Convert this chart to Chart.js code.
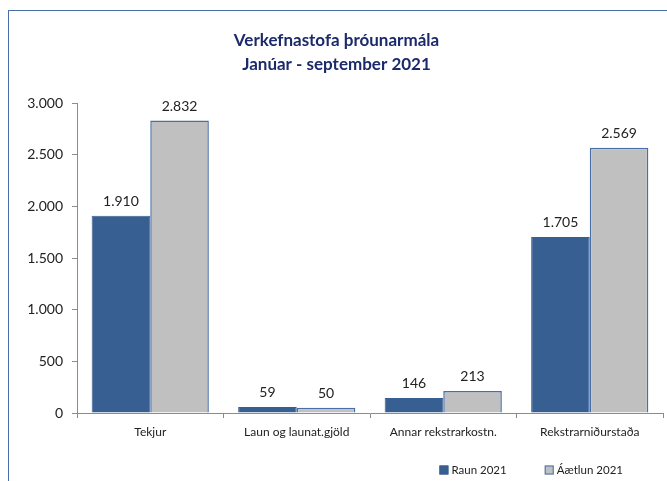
<!DOCTYPE html>
<html>
<head>
<meta charset="utf-8">
<script src="https://cdn.jsdelivr.net/npm/chart.js@4/dist/chart.umd.min.js"></script>
<style>
  html, body { margin: 0; padding: 0; background: #fff; overflow: hidden; }
  #wrap { position: relative; width: 667px; height: 481px; }
  #frame { position: absolute; left: 8px; top: 10px; width: 700px; height: 500px;
           border-left: 1.5px solid #4a6ea8; border-top: 1.5px solid #4a6ea8; }
  canvas { position: absolute; left: 0; top: 0; }
</style>
</head>
<body>
<div id="wrap">
  <div id="frame"></div>
  <canvas id="c" width="667" height="481"></canvas>
</div>
<script>
const categories = ['Tekjur', 'Laun og launat.gjöld', 'Annar rekstrarkostn.', 'Rekstrarniðurstaða'];
const raun2021 = [1910, 59, 146, 1705];
const aaetlun2021 = [2832, 50, 213, 2569];
const seriesNames = ['Raun 2021', 'Áætlun 2021'];
const titleLines = ['Verkefnastofa þróunarmála', 'Janúar - september 2021'];

// Icelandic number format: dot as thousands separator
const fmt = v => Math.round(v).toString().replace(/\B(?=(\d{3})+(?!\d))/g, '.');

const FONT = 'Lato, "Open Sans", sans-serif';

// Value above each bar
const valueLabels = {
  id: 'valueLabels',
  afterDatasetsDraw(chart) {
    const ctx = chart.ctx;
    ctx.save();
    ctx.font = '14px ' + FONT;
    ctx.fillStyle = '#222';
    ctx.textAlign = 'center';
    ctx.textBaseline = 'alphabetic';
    chart.data.datasets.forEach((ds, i) => {
      chart.getDatasetMeta(i).data.forEach((bar, j) => {
        ctx.fillText(fmt(ds.data[j]), bar.x, bar.y - 10);
      });
    });
    ctx.restore();
  }
};

// Legend along the bottom right, wide spacing between entries
const bottomLegend = {
  id: 'bottomLegend',
  afterDraw(chart) {
    const ctx = chart.ctx;
    const ds = chart.data.datasets;
    ctx.save();
    ctx.font = '11.5px ' + FONT;
    ctx.textBaseline = 'middle';
    ctx.textAlign = 'left';
    const y = 470, box = 9, gap = 3, spacing = 38;
    const widths = ds.map(d => box + gap + ctx.measureText(d.label).width);
    let x = 623 - widths.reduce((a, b) => a + b, 0) - spacing * (ds.length - 1);
    ds.forEach((d, i) => {
      ctx.fillStyle = d.backgroundColor;
      ctx.fillRect(x, y - box / 2, box, box);
      ctx.lineWidth = 1;
      ctx.strokeStyle = d.borderColor;
      ctx.strokeRect(x + 0.5, y - box / 2 + 0.5, box - 1, box - 1);
      ctx.fillStyle = '#222';
      ctx.fillText(d.label, x + box + gap, y);
      x += widths[i] + spacing;
    });
    ctx.restore();
  }
};

new Chart(document.getElementById('c'), {
  type: 'bar',
  data: {
    labels: categories,
    datasets: [
      { label: seriesNames[0], data: raun2021, backgroundColor: '#385f91',
        borderColor: '#385f91', borderWidth: 1 },
      { label: seriesNames[1], data: aaetlun2021, backgroundColor: '#c0c0c0',
        borderColor: '#4a6ea8', borderWidth: 1.5 }
    ]
  },
  options: {
    responsive: false,
    animation: false,
    devicePixelRatio: 1,
    layout: { padding: { left: 10, right: 4, top: 0, bottom: 28 } },
    datasets: { bar: { categoryPercentage: 0.8, barPercentage: 1.0 } },
    plugins: {
      title: {
        display: true,
        text: titleLines,
        color: '#1b2a6b',
        font: { family: FONT, size: 17, weight: 'bold', lineHeight: 1.42 },
        padding: { top: 28, bottom: 27 }
      },
      legend: { display: false },
      tooltip: { enabled: false }
    },
    scales: {
      x: {
        grid: { display: true, drawOnChartArea: false, offset: true, color: '#8c8c8c', tickLength: 5 },
        border: { color: '#8c8c8c', width: 1 },
        ticks: { color: '#222', font: { family: FONT, size: 12 }, padding: 7 },
        afterFit(s) { s.height = 40; }
      },
      y: {
        min: 0, max: 3000,
        grid: { display: true, drawOnChartArea: false, color: '#8c8c8c', tickLength: 5 },
        border: { color: '#8c8c8c', width: 1 },
        ticks: { stepSize: 500, color: '#222', font: { family: FONT, size: 14 },
                 padding: 9, callback: v => fmt(v) },
        afterFit(s) { s.width = 67; }
      }
    }
  },
  plugins: [valueLabels, bottomLegend]
});
</script>
</body>
</html>
